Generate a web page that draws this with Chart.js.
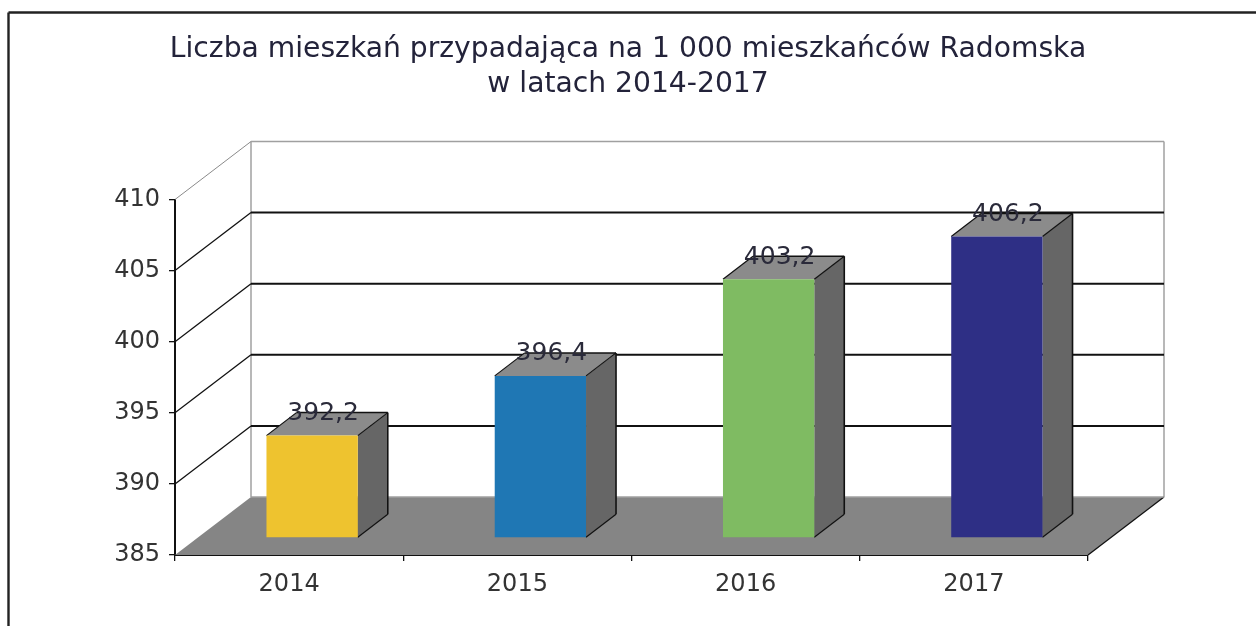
<!DOCTYPE html>
<html lang="pl"><head><meta charset="utf-8">
<style>html,body{margin:0;padding:0;background:#fff}#w{position:relative;width:1256px;height:626px}canvas{display:block;filter:blur(0.4px)}</style>
<script src="https://cdn.jsdelivr.net/npm/chart.js@4"></script></head>
<body><div id="w"><canvas id="c" width="1256" height="626"></canvas></div>
<script>
const categories = ['2014','2015','2016','2017'];
const values = [392.2,396.4,403.2,406.2];
const valueLabels = ['392,2','396,4','403,2','406,2'];
const barColors = ['#EEC32F','#1F77B4','#7FBB62','#2E2F85'];
const titleLines = ['Liczba mieszkań przypadająca na 1 000 mieszkańców Radomska','w latach 2014-2017'];
const yMin = 385, yMax = 410, yStep = 5;
const FONT = '"DejaVu Sans", Verdana, sans-serif';
const WALL = {dx:76, dy:-58};       // depth of the whole plot box
const BAR_FRONT = {dx:23, dy:-17};  // where the bar front sits in depth
const BAR_DEPTH = {dx:30, dy:-23};  // depth of each bar

function poly(ctx, pts, fill, stroke, lw){
  ctx.beginPath(); pts.forEach((p,i)=> i?ctx.lineTo(p[0],p[1]):ctx.moveTo(p[0],p[1])); ctx.closePath();
  if(fill){ctx.fillStyle=fill;ctx.fill();}
  if(stroke){ctx.strokeStyle=stroke;ctx.lineWidth=lw||1;ctx.stroke();}
}
function line(ctx,x1,y1,x2,y2,c,w){ctx.beginPath();ctx.moveTo(x1,y1);ctx.lineTo(x2,y2);ctx.strokeStyle=c;ctx.lineWidth=w||1;ctx.stroke();}

const box3d = {
  id:'box3d',
  beforeDatasetsDraw(chart){
    const {ctx,chartArea:a,scales:{y}} = chart, d=WALL;
    ctx.save();
    line(ctx,a.left+d.dx,a.top+d.dy,a.right+d.dx,a.top+d.dy,'#a0a0a0',1.5);
    line(ctx,a.left+d.dx,a.top+d.dy,a.left+d.dx,a.bottom+d.dy,'#a0a0a0',1.5);
    line(ctx,a.right+d.dx,a.top+d.dy,a.right+d.dx,a.bottom+d.dy,'#a0a0a0',1.5);
    line(ctx,a.left,a.top,a.left+d.dx,a.top+d.dy,'#8a8a8a',1);
    for(let v=yMin+yStep;v<yMax;v+=yStep){
      const p=y.getPixelForValue(v);
      line(ctx,a.left,p,a.left+d.dx,p+d.dy,'#111',1.3);
      line(ctx,a.left+d.dx,p+d.dy,a.right+d.dx,p+d.dy,'#111',2);
    }
    poly(ctx,[[a.left,a.bottom],[a.left+d.dx,a.bottom+d.dy],[a.right+d.dx,a.bottom+d.dy],[a.right,a.bottom]],'#858585');
    line(ctx,a.right,a.bottom,a.right+d.dx,a.bottom+d.dy,'#111',1.3);
    line(ctx,a.left+d.dx,a.bottom+d.dy,a.right+d.dx,a.bottom+d.dy,'#a0a0a0',1.5);
    ctx.restore();
  },
  beforeDatasetDraw(chart){
    const ctx=chart.ctx; ctx.save(); ctx.translate(BAR_FRONT.dx,BAR_FRONT.dy);
    chart.getDatasetMeta(0).data.forEach(el=>{
      const l=el.x-el.width/2,r=el.x+el.width/2,t=el.y,b=el.base,dx=BAR_DEPTH.dx,dy=BAR_DEPTH.dy;
      poly(ctx,[[r,t],[r+dx,t+dy],[r+dx,b+dy],[r,b]],'#666666');
      poly(ctx,[[l,t],[l+dx,t+dy],[r+dx,t+dy],[r,t]],'#8b8b8b');
      line(ctx,l,t,l+dx,t+dy,'#111',1.2);
      line(ctx,l+dx,t+dy,r+dx,t+dy,'#111',1.5);
      line(ctx,r+dx,t+dy,r+dx,b+dy,'#111',1.6);
      line(ctx,r,t,r+dx,t+dy,'#111',1.2);
      line(ctx,r,b,r+dx,b+dy,'#111',1.2);
    });
  },
  afterDatasetDraw(chart){ chart.ctx.restore(); },
  afterDatasetsDraw(chart){
    const ctx=chart.ctx; ctx.save();
    ctx.font='25px '+FONT; ctx.fillStyle='#2a2a3a'; ctx.textAlign='center'; ctx.textBaseline='middle';
    chart.getDatasetMeta(0).data.forEach((el,i)=>{
      ctx.fillText(valueLabels[i], el.x+BAR_FRONT.dx+11, el.y+BAR_FRONT.dy-22);
    });
    ctx.restore();
  },
  beforeDraw(chart){
    const ctx=chart.ctx;
    line(ctx,8.5,12.5,1256,12.5,'#222',2.4);
    line(ctx,8.5,12.5,8.5,626,'#222',2.4);
  }
};

new Chart(document.getElementById('c'),{
  type:'bar',
  data:{labels:categories,datasets:[{data:values,backgroundColor:barColors,borderWidth:0,barPercentage:0.4,categoryPercentage:1,base:yMin}]},
  plugins:[box3d],
  options:{
    responsive:false,animation:false,
    layout:{padding:{left:0,right:0,top:32,bottom:0}},
    plugins:{
      legend:{display:false},tooltip:{enabled:false},
      title:{display:true,text:titleLines,color:'#23233a',font:{family:FONT,size:28.2,weight:'normal',lineHeight:1.25},padding:{top:0,bottom:97}}
    },
    scales:{
      x:{afterFit(s){s.height=71;},grid:{drawOnChartArea:false,color:'#111',tickLength:6,lineWidth:1.3},border:{color:'#111',width:2},
         ticks:{color:'#333',font:{family:FONT,size:24},padding:9}},
      y:{min:yMin,max:yMax,afterFit(s){s.width=175;},grid:{drawOnChartArea:false,color:'#111',tickLength:6,lineWidth:1.3},border:{color:'#111',width:2},
         ticks:{stepSize:yStep,color:'#333',font:{family:FONT,size:24},padding:9}},
      r:{position:'right',display:true,afterFit(s){s.width=168;},grid:{display:false},border:{display:false},ticks:{display:false}}
    }
  }
});
</script></body></html>
